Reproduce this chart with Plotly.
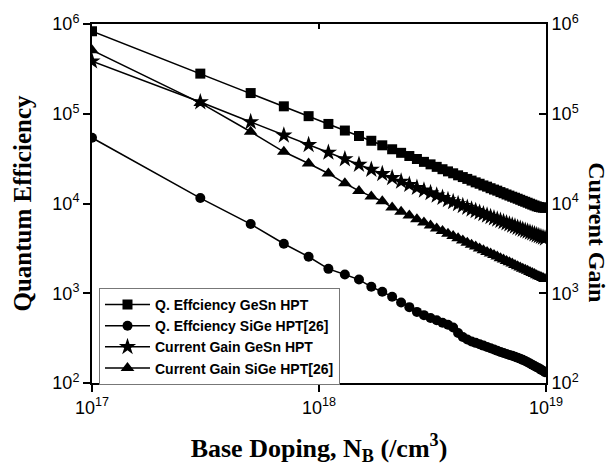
import plotly.graph_objects as go

# Base doping in units of 1e17 /cm^3
doping_1e17 = [1, 3, 5, 7, 9, 11, 13, 15, 17, 19, 21, 23, 25, 27, 29, 31, 33, 35, 37, 39,
               41, 43, 45, 47, 49, 51, 53, 55, 57, 59, 61, 63, 65, 67, 69, 71, 73, 75, 77, 79,
               81, 83, 85, 87, 89, 91, 93, 95, 97, 99]

qe_gesn = [830000, 280000, 170000, 121000, 94000, 77000, 65000, 56500, 50000, 44500,
           40200, 36700, 33800, 31300, 29100, 27300, 25600, 24100, 22800, 21700,
           20600, 19700, 18800, 18000, 17200, 16600, 15900, 15400, 14800, 14300,
           13900, 13400, 13000, 12600, 12250, 11900, 11600, 11300, 11000, 10700,
           10450, 10200, 9950, 9720, 9500, 9300, 9150, 9050, 8980, 8950]

qe_sige = [54000, 11500, 5900, 3560, 2550, 1870, 1620, 1420, 1180, 1040,
           916, 790, 700, 620, 570, 530, 500, 470, 445, 415,
           360, 325, 305, 290, 280, 270, 261, 252, 244, 236,
           229, 222, 216, 210, 205, 201, 196, 191, 186, 181,
           176, 170, 165, 160, 155, 150, 146, 141, 137, 132]

cg_gesn = [385000, 135000, 81000, 57500, 45000, 37000, 31300, 27100, 23900, 21400,
           19300, 17600, 16200, 15000, 14000, 13100, 12300, 11600, 10950, 10400,
           9880, 9420, 9000, 8620, 8270, 7940, 7640, 7360, 7110, 6860,
           6640, 6430, 6230, 6040, 5870, 5700, 5550, 5400, 5260, 5130,
           5000, 4880, 4760, 4660, 4550, 4450, 4350, 4260, 4180, 4090]

cg_sige = [510000, 132000, 63000, 37700, 27900, 21600, 16800, 13800, 12000, 10600,
           9000, 8080, 7330, 6690, 6150, 5680, 5280, 4930, 4610, 4340,
           4090, 3860, 3660, 3480, 3310, 3160, 3020, 2890, 2770, 2660,
           2560, 2460, 2370, 2290, 2210, 2140, 2070, 2000, 1940, 1880,
           1830, 1780, 1730, 1680, 1640, 1590, 1550, 1520, 1480, 1440]

x_tick_vals = [1e17, 1e18, 1e19]
x_tick_text = ["10<sup>17</sup>", "10<sup>18</sup>", "10<sup>19</sup>"]
y_tick_vals = [1e2, 1e3, 1e4, 1e5, 1e6]
y_tick_text = ["10<sup>2</sup>", "10<sup>3</sup>", "10<sup>4</sup>", "10<sup>5</sup>", "10<sup>6</sup>"]

x = [v * 1e17 for v in doping_1e17]

fig = go.Figure()
common_line = dict(color="black", width=1.5)
fig.add_trace(go.Scatter(x=x, y=qe_gesn, mode="lines+markers", name="<b>Q. Effciency GeSn HPT</b>",
                         line=common_line, marker=dict(symbol="square", size=10, color="black")))
fig.add_trace(go.Scatter(x=x, y=qe_sige, mode="lines+markers", name="<b>Q. Effciency SiGe HPT[26]</b>",
                         line=common_line, marker=dict(symbol="circle", size=10, color="black")))
fig.add_trace(go.Scatter(x=x, y=cg_gesn, mode="lines+markers", name="<b>Current Gain GeSn HPT</b>",
                         line=common_line, marker=dict(symbol="star", size=13, color="black"),
                         xaxis="x2", yaxis="y2"))
fig.add_trace(go.Scatter(x=x, y=cg_sige, mode="lines+markers", name="<b>Current Gain SiGe HPT[26]</b>",
                         line=common_line, marker=dict(symbol="triangle-up", size=12, color="black"),
                         xaxis="x2", yaxis="y2"))

tickfont = dict(family="Liberation Sans, Arial", size=18, color="black")
fig.update_layout(
    width=613, height=470,
    margin=dict(l=92, r=67, t=17, b=87),
    paper_bgcolor="white", plot_bgcolor="white",
    showlegend=True,
    legend=dict(x=0.0154, y=0.265, xanchor="left", yanchor="top",
                bgcolor="white", bordercolor="#777777", borderwidth=1,
                font=dict(family="Liberation Sans, Arial", size=14, color="black"),
                tracegroupgap=0, itemwidth=45),
    xaxis=dict(type="log", range=[17, 19], tickvals=x_tick_vals, ticktext=x_tick_text,
               ticks="outside", ticklen=7, tickwidth=2, tickcolor="black",
               showline=True, linewidth=2, linecolor="black", showgrid=False, zeroline=False,
               tickfont=tickfont,
               title=dict(text="<b>Base Doping, N<sub>B</sub> (/cm<sup>3</sup>)</b>",
                          font=dict(family="Liberation Serif, Times New Roman", size=26, color="black"),
                          standoff=22)),
    yaxis=dict(type="log", range=[2, 6], tickvals=y_tick_vals, ticktext=y_tick_text,
               ticks="outside", ticklen=7, tickwidth=2, tickcolor="black",
               showline=True, linewidth=2, linecolor="black", showgrid=False, zeroline=False,
               tickfont=tickfont,
               title=dict(text="<b>Quantum Efficiency</b>",
                          font=dict(family="Liberation Serif, Times New Roman", size=25, color="black"),
                          standoff=14)),
    xaxis2=dict(type="log", range=[17, 19], overlaying="x", side="top", tickvals=x_tick_vals,
                showticklabels=False, ticks="inside", ticklen=5, tickwidth=2, tickcolor="black",
                showline=True, linewidth=2, linecolor="black", showgrid=False, zeroline=False),
    yaxis2=dict(type="log", range=[2, 6], overlaying="y", side="right", tickvals=y_tick_vals,
                ticktext=y_tick_text, ticks="inside", ticklen=7, tickwidth=2, tickcolor="black",
                showline=True, linewidth=2, linecolor="black", showgrid=False, zeroline=False,
                tickfont=tickfont),
)
fig.add_annotation(text="<b>Current Gain</b>", xref="paper", yref="paper",
                   x=1.0, xshift=51, xanchor="center", yanchor="middle",
                   y=0.42, textangle=90, showarrow=False,
                   font=dict(family="Liberation Serif, Times New Roman", size=24, color="black"))

fig.write_html("out.html")
